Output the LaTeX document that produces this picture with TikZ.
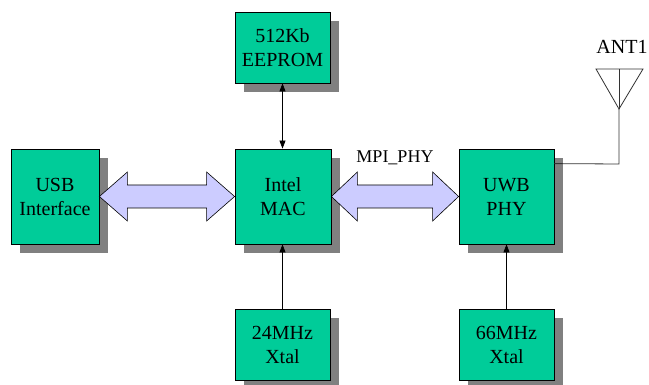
\documentclass[tikz,border=0pt]{standalone}
\usepackage{fontspec}
\setmainfont{Liberation Serif}
\usetikzlibrary{calc,shadows,arrows.meta}
\definecolor{boxgreen}{HTML}{00CC99}
\definecolor{busfill}{HTML}{CCCCFF}
\definecolor{shadowgray}{HTML}{808080}
\begin{document}
\begin{tikzpicture}[x=1pt,y=-1pt,
  blk/.style={draw=black, line width=0.8pt, fill=boxgreen, inner sep=0pt, align=center,
    font=\fontsize{20}{24}\selectfont,
    drop shadow={shadow xshift=9pt, shadow yshift=-9pt, fill=shadowgray, opacity=1}},
  bigblk/.style={blk, minimum width=95pt, minimum height=95pt},
  smallblk/.style={blk, minimum width=95pt, minimum height=71pt},
  bus/.style={draw=black, line width=0.6pt, fill=busfill, line join=miter},
  sig/.style={draw=black, line width=0.7pt, -{Triangle[length=8pt,width=6pt]}},
  sigb/.style={draw=black, line width=0.7pt, {Triangle[length=8pt,width=6pt]}-{Triangle[length=8pt,width=6pt]}},
  wire/.style={draw=black!80, line width=0.8pt},
  lbl/.style={inner sep=0pt}]
\useasboundingbox (0,0) rectangle (649,385);
\node[bigblk, minimum width=88pt] (usb) at (55,196.5) {USB\\Interface};
\node[bigblk, minimum width=96pt] (mac) at (283,196.5) {Intel\\MAC};
\node[bigblk] (uwb) at (506.5,196.5) {UWB\\PHY};
\node[smallblk] (eep) at (282.5,47.5) {512Kb\\EEPROM};
\node[smallblk] (x24) at (282.5,344.5) {24MHz\\Xtal};
\node[smallblk] (x66) at (506.5,344.5) {66MHz\\Xtal};
% buses
\draw[bus] (usb.east) -- ++(28,-24.5) -- ++(0,13) -- ($(mac.west)+(-28,-11.5)$) -- ++(0,-13)
  -- (mac.west) -- ++(-28,24.5) -- ++(0,-13) -- ($(usb.east)+(28,11.5)$) -- ++(0,13) -- cycle;
\draw[bus] (mac.east) -- ++(26,-24.5) -- ++(0,13) -- ($(uwb.west)+(-26,-11.5)$) -- ++(0,-13)
  -- (uwb.west) -- ++(-26,24.5) -- ++(0,-13) -- ($(mac.east)+(26,11.5)$) -- ++(0,13) -- cycle;
\node[lbl, font=\fontsize{18}{20}\selectfont] (mpi) at (395,158) {MPI\_PHY};
% signals
\draw[sigb] (eep.south) -- (eep.south |- mac.north);
\draw[sig] (x24.north) -- (x24.north |- mac.south);
\draw[sig] (x66.north) -- (x66.north |- uwb.south);
% antenna
\coordinate (apex) at (619,109);
\coordinate (tl) at (596,69);
\coordinate (tr) at (643,69);
\coordinate (tm) at (619,69);
\draw[wire, line join=miter] (tl) -- (tr) -- (apex) -- cycle;
\draw[wire] (tm) -- (apex);
\coordinate (bend) at (619,164);
\draw[wire] (apex) -- (bend) -- ($(uwb.north east)+(0,15)$);
\node[lbl, font=\fontsize{20}{24}\selectfont] (ant) at (622,47) {ANT1};
\end{tikzpicture}
\end{document}
